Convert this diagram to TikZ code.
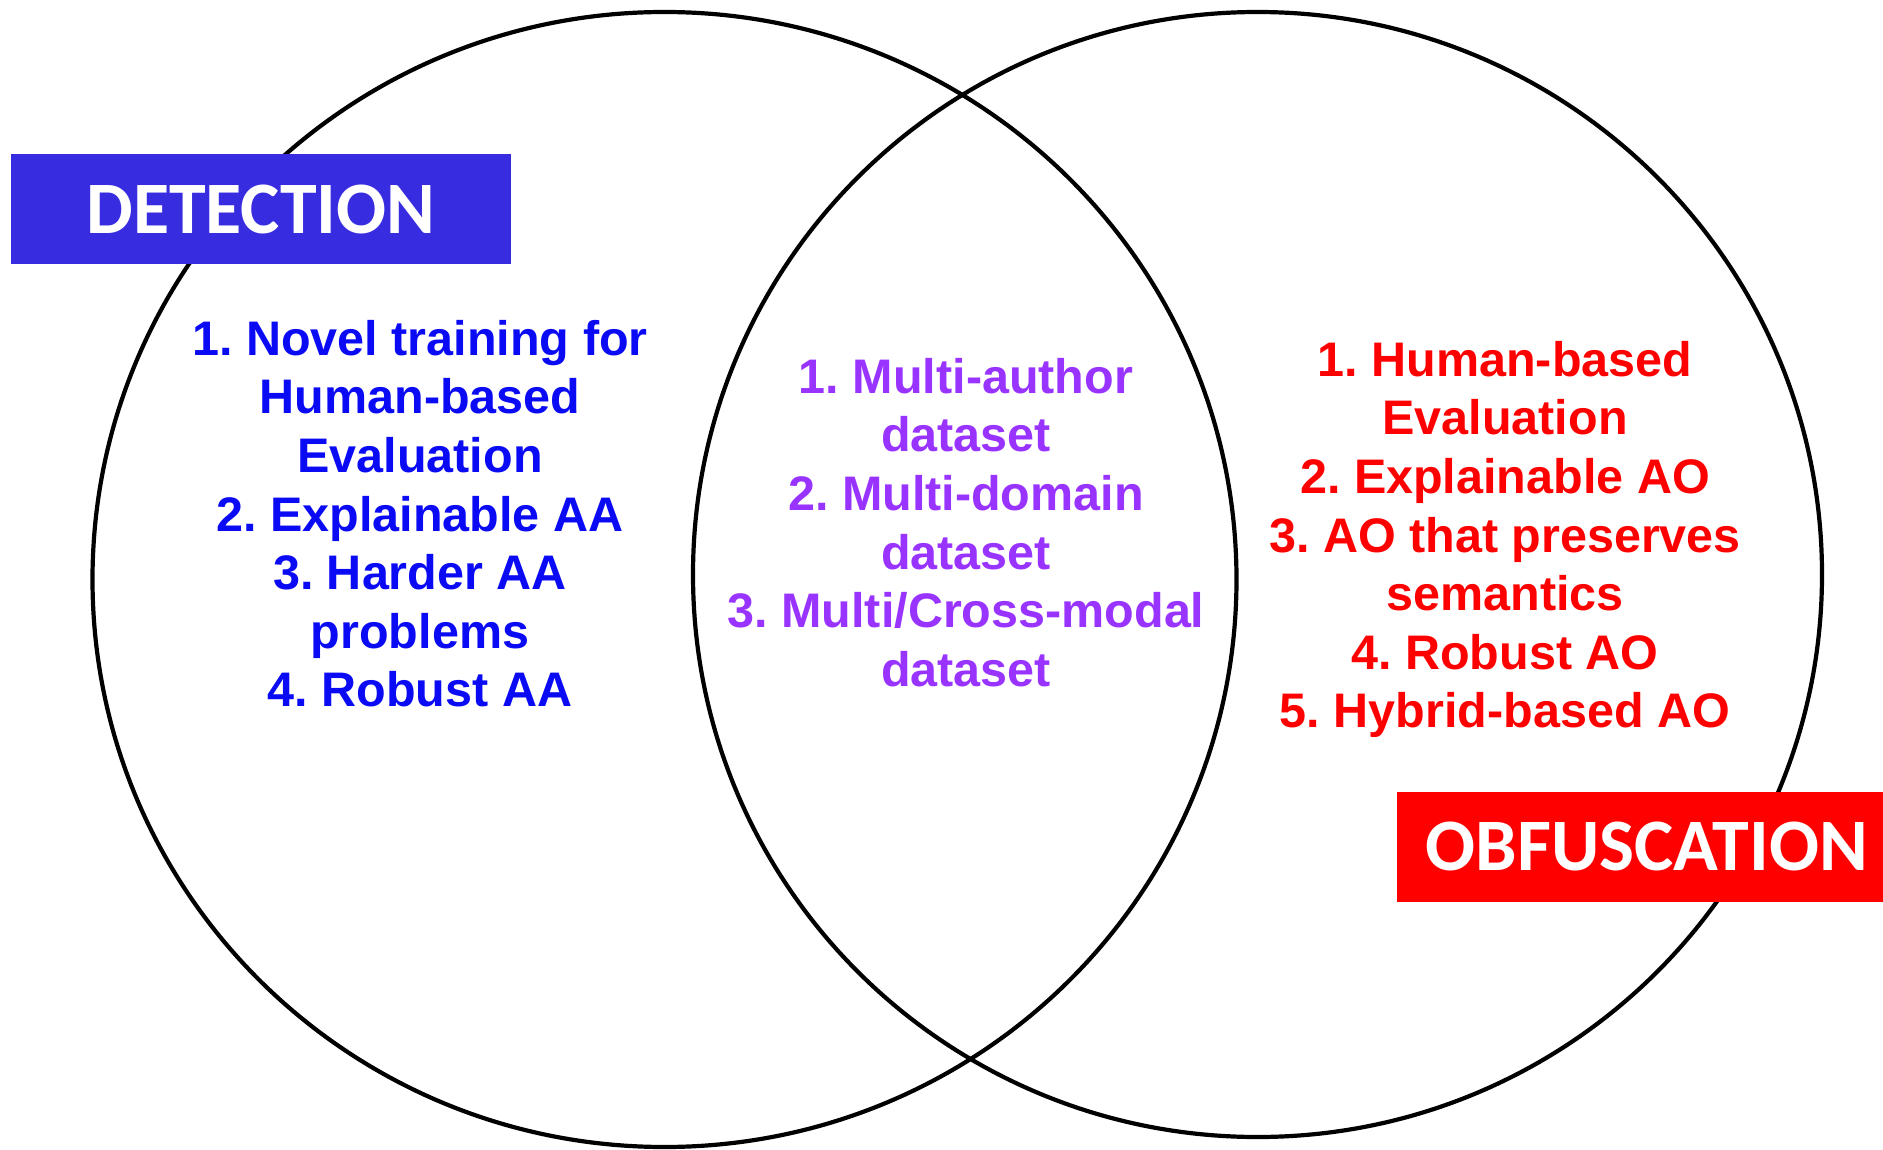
\documentclass[tikz,border=0pt]{standalone}
\usepackage{fontspec}
\setmainfont{Liberation Sans}
\newfontfamily\headfont{Carlito}
\definecolor{detblue}{RGB}{56,44,224}
\definecolor{obfred}{RGB}{255,0,0}
\definecolor{listblue}{RGB}{10,10,245}
\definecolor{listpurple}{RGB}{153,51,255}
\definecolor{listred}{RGB}{255,0,0}
\newcommand{\fstrut}{\rule{0pt}{37pt}}
\frenchspacing
\tikzset{
  vcircle/.style={draw=black, line width=4.2pt},
  listtext/.style={anchor=north, align=center, inner sep=0pt,
    font=\fontsize{48.5}{58.6}\selectfont\bfseries},
  headbox/.style={minimum width=500pt, minimum height=110pt, inner sep=0pt,
    text=white, font=\headfont\bfseries\fontsize{74}{74}\selectfont}
}
\begin{document}
\begin{tikzpicture}[x=1pt,y=-1pt]
\useasboundingbox (0,0) rectangle (1883,1150);
\fill[white] (0,0) rectangle (1883,1150);
\draw[vcircle] (664.5,579.5) ellipse [x radius=572, y radius=567.5];
\draw[vcircle] (1257.5,574.5) ellipse [x radius=564.5, y radius=562.5];
\node[listtext, text=listblue] (det) at (420,318)
  {\fstrut 1. Novel training for\\Human-based\\Evaluation\\2. Explainable AA\\3. Harder AA\\problems\\4. Robust AA};
\node[listtext, text=listpurple] (both) at (966,356)
  {\fstrut 1. Multi-author\\dataset\\2. Multi-domain\\dataset\\3. Multi/Cross-modal\\dataset};
\node[listtext, text=listred] (obf) at (1505,339)
  {\fstrut 1. Human-based\\Evaluation\\2. Explainable AO\\3. AO that preserves\\semantics\\4. Robust AO\\5. Hybrid-based AO};
\node[headbox, fill=detblue] (dethead) at (261,209) {DETECTION};
\node[headbox, fill=obfred] (obfhead) at (1647,847) {OBFUSCATION};
\end{tikzpicture}
\end{document}
